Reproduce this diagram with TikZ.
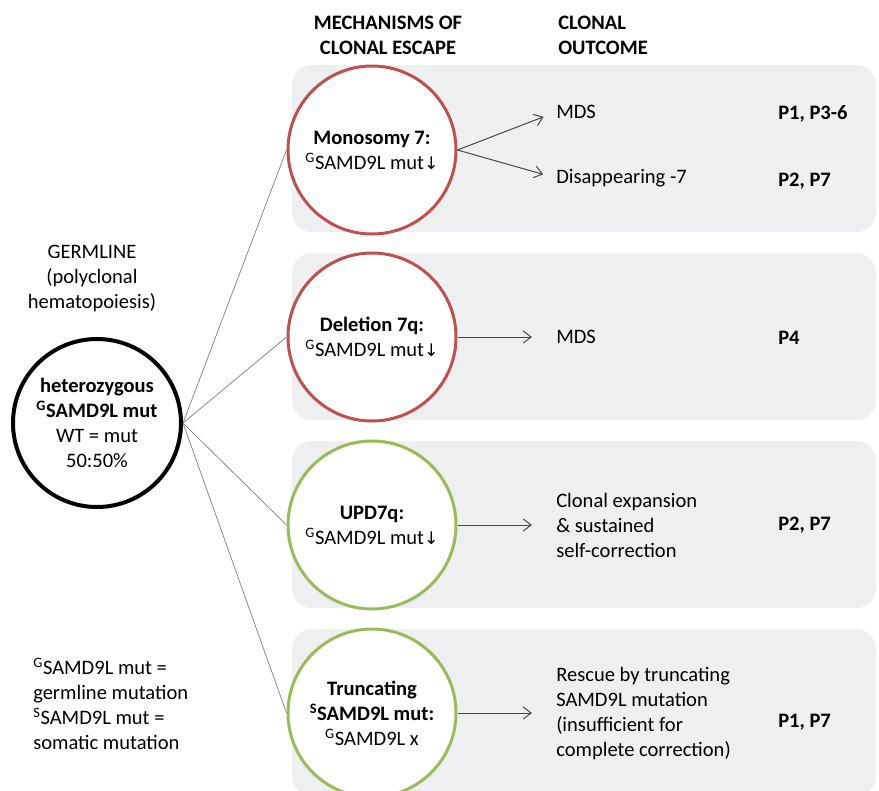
\documentclass[tikz,border=0pt]{standalone}
\usepackage{fontspec}
\setmainfont{Carlito}
\newfontfamily\arrowfont{DejaVu Sans}
\usetikzlibrary{arrows.meta}

\definecolor{panelgray}{RGB}{238,239,241}
\definecolor{lossred}{RGB}{192,80,77}
\definecolor{rescuegreen}{RGB}{155,187,89}
\definecolor{linkgray}{RGB}{120,120,120}
\definecolor{arrowgray}{RGB}{70,70,70}

\newcommand{\gmut}{\textsuperscript{G}SAMD9L mut}
\newcommand{\mutdown}{{\arrowfont\fontsize{13}{15}\selectfont ↓}}

\begin{document}
\begin{tikzpicture}[x=0.75pt, y=-0.75pt,
    font=\fontsize{15.4}{18.75}\selectfont,
    panel/.style={fill=panelgray, rounded corners=15pt},
    clone/.style={circle, draw=#1, line width=2.25pt, fill=white,
        minimum size=126pt, inner sep=0pt, align=center},
    link/.style={draw=linkgray, line width=0.5pt},
    outarrow/.style={draw=arrowgray, line width=0.75pt,
        -{Straight Barb[length=6pt,width=9pt]}},
    outtext/.style={anchor=west, inner sep=0pt, align=left},
    patients/.style={anchor=west, inner sep=0pt, font=\fontsize{15.4}{18.75}\selectfont\bfseries}]
    \useasboundingbox (0,0) rectangle (879,790);

    % Headings
    \node[align=center, font=\fontsize{15.4}{18.75}\selectfont\bfseries] (headmech) at (388,35)
        {MECHANISMS OF\\CLONAL ESCAPE};
    \node[outtext, font=\fontsize{15.4}{18.75}\selectfont\bfseries] (headout) at (558,35)
        {CLONAL\\OUTCOME};

    % Grey panels
    \foreach \top in {65,253,441,629}
        \fill[panel] (292,\top) rectangle (876,\top+167);

    % Germline
    \node[align=center] (germtitle) at (92,278) {GERMLINE\\(polyclonal\\hematopoiesis)};
    \node[circle, draw=black, line width=3pt, fill=white, minimum size=126pt,
        inner sep=0pt, align=center] (germ) at (97,423)
        {\textbf{heterozygous}\\\textbf{\gmut}\\WT = mut\\50:50\%};
    \node[outtext] (legend) at (33,704)
        {\gmut\ =\\germline mutation\\\textsuperscript{S}SAMD9L mut =\\somatic mutation};

    % Clonal escape
    \node[clone=lossred] (mono) at (372,150) {\textbf{Monosomy 7:}\\\gmut\mutdown};
    \node[clone=lossred] (del) at (372,337) {\textbf{Deletion 7q:}\\\gmut\mutdown};
    \node[clone=rescuegreen] (upd) at (372,525) {\textbf{UPD7q:}\\\gmut\mutdown};
    \node[clone=rescuegreen] (trunc) at (372,713)
        {\textbf{Truncating}\\\textbf{\textsuperscript{S}SAMD9L mut:}\\\textsuperscript{G}SAMD9L x};

    \foreach \target in {mono,del,upd,trunc}
        \draw[link] (germ.east) -- (\target.west);

    % Outcomes
    \node[outtext] (mds1) at (556,112) {MDS};
    \node[outtext] (disap) at (556,178) {Disappearing -7};
    \node[outtext] (mds2) at (556,337) {MDS};
    \node[outtext] (expand) at (556,525) {Clonal expansion\\\& sustained\\self-correction};
    \node[outtext] (rescue) at (556,714)
        {Rescue by truncating\\SAMD9L mutation\\(insufficient for\\complete correction)};

    \draw[outarrow, shorten >=10pt] (mono.east) -- (mds1.west);
    \draw[outarrow, shorten >=10pt] (mono.east) -- (disap.west);
    \draw[outarrow, shorten >=18pt] (del.east) -- (mds2.west);
    \draw[outarrow, shorten >=18pt] (upd.east) -- (upd.east -| expand.west);
    \draw[outarrow, shorten >=18pt] (trunc.east) -- (trunc.east -| rescue.west);

    % Patients
    \node[patients] (pmono1) at (778,114) {P1, P3-6};
    \node[patients] (pmono2) at (778,181) {P2, P7};
    \node[patients] (pdel) at (778,338) {P4};
    \node[patients] (pupd) at (778,525) {P2, P7};
    \node[patients] (ptrunc) at (778,722) {P1, P7};
\end{tikzpicture}
\end{document}
